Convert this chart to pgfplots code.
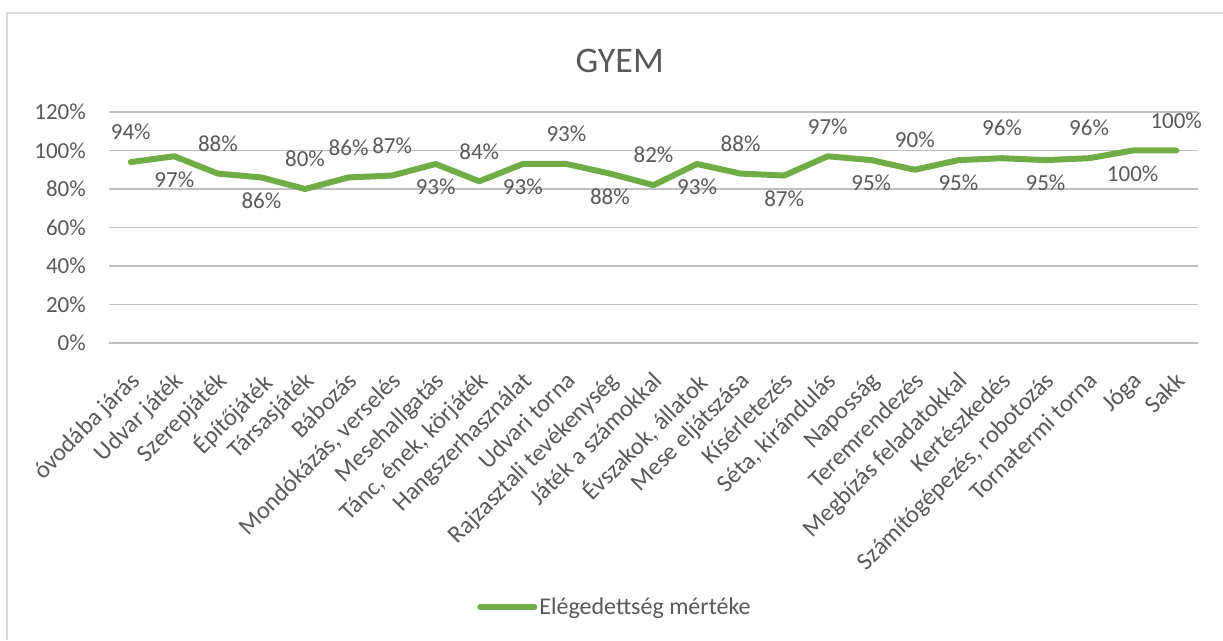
\documentclass[border=0pt]{standalone}
\usepackage{pgfplots}
\usepackage{pgfplotstable}
\pgfplotsset{compat=1.18}
\usepackage{fontspec}
\setmainfont{Carlito}
\definecolor{txt}{HTML}{595959}
\definecolor{grid}{HTML}{D9D9D9}
\definecolor{ser}{HTML}{70AD47}
\pgfplotstableread{
x y off
1 94 30
2 97 -23
3 88 30
4 86 -23
5 80 30
6 86 30
7 87 30
8 93 -23
9 84 30
10 93 -23
11 93 30
12 88 -23
13 82 30
14 93 -23
15 88 30
16 87 -23
17 97 30
18 95 -23
19 90 30
20 95 -23
21 96 30
22 95 -23
23 96 30
24 100 -23
25 100 30
}\datatable
\begin{document}
\begin{tikzpicture}[x=1pt,y=1pt]
\path[use as bounding box] (0,0) rectangle (1223,640);
\draw[grid, line width=1.2pt] (7,0) -- (7,627) -- (1223,627);
\begin{axis}[
  at={(109pt,297pt)}, anchor=south west,
  scale only axis, width=1089pt, height=231pt,
  xmin=0.5, xmax=25.5, ymin=0, ymax=120,
  axis line style={draw=none},
  ytick={0,20,...,120},
  yticklabels={0\%,20\%,40\%,60\%,80\%,100\%,120\%},
  xtick={1,...,25},
  xticklabels={óvodába járás,Udvar játék,Szerepjáték,Építőjáték,Társasjáték,Bábozás,{Mondókázás, verselés},Mesehallgatás,{Tánc, ének, körjáték},Hangszerhasználat,Udvari torna,Rajzasztali tevékenység,Játék a számokkal,{Évszakok, állatok},Mese eljátszása,Kísérletezés,{Séta, kirándulás},Naposság,Teremrendezés,Megbízás feladatokkal,Kertészkedés,{Számítógépezés, robotozás},Tornatermi torna,Jóga,Sakk},
  major tick length=0pt,
  major tick style={draw=none},
  ymajorgrids, xmajorgrids=false,
  major grid style={grid, line width=1.2pt},
  tick label style={text=txt},
  yticklabel style={font=\fontsize{23}{27}\selectfont, anchor=east, inner sep=0pt, xshift=-23pt},
  xticklabel style={font=\fontsize{24.5}{28}\selectfont, xshift=-2pt, yshift=-27pt, rotate=45, anchor=north east, inner sep=0pt},
  title={GYEM},
  title style={at={(0.469,1.195)}, anchor=center, font=\fontsize{36}{40}\selectfont, text=txt},
  legend style={at={(0.4646,-1.143)}, anchor=center, draw=none, font=\fontsize{24}{28}\selectfont, text=txt, inner sep=0pt},
  legend image code/.code={\draw[#1, line width=6pt] (0pt,0pt) -- (54pt,0pt);},
  clip=false,
]
\addplot[ser, line width=6pt, line cap=round, line join=round, mark=none,
  nodes near coords={\pgfmathprintnumber{\pgfplotspointmeta}\%},
  visualization depends on={\thisrow{off} \as \off},
  every node near coord/.append style={anchor=center, yshift=\off pt, font=\fontsize{23}{27}\selectfont, text=txt, /pgf/number format/assume math mode=true},
] table[x=x, y=y] {\datatable};
\addlegendentry{Elégedettség mértéke}
\end{axis}
\end{tikzpicture}
\end{document}
